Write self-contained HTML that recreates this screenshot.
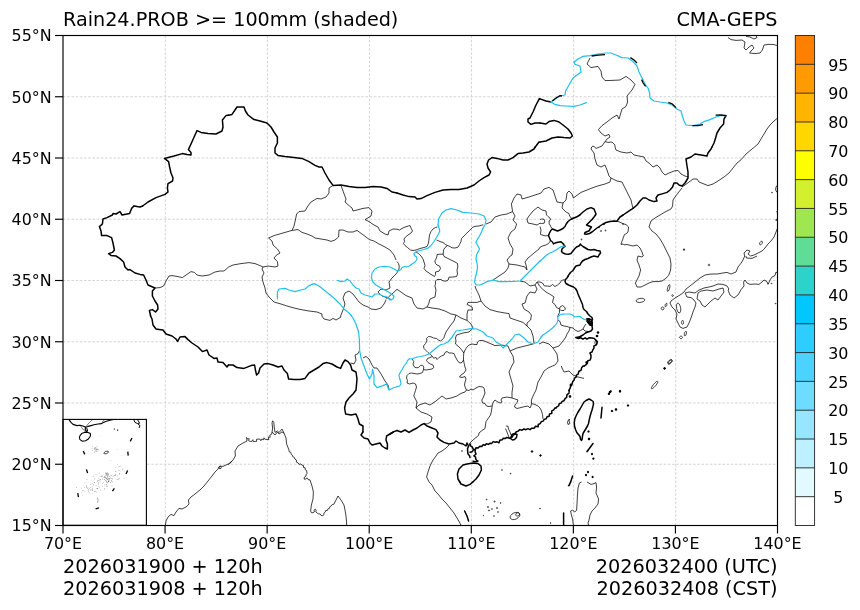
<!DOCTYPE html>
<html lang="en">
<head>
<meta charset="utf-8">
<title>Rain24.PROB &gt;= 100mm - CMA-GEPS</title>
<style>
html,body{margin:0;padding:0;background:#fff;}
body{width:860px;height:610px;overflow:hidden;}
svg{display:block;}
text{font-family:"DejaVu Sans","Liberation Sans",sans-serif;fill:#000;}
.tk{font-size:15.9px;}
.ti{font-size:19.2px;}
.bt{font-size:19.25px;}
.sp{fill:none;stroke:#000;stroke-width:1.15;}
.gr{fill:none;stroke:#d0d0d0;stroke-width:.9;stroke-dasharray:2.6 1.6;}
.cn{fill:none;stroke:#000;stroke-width:1.5;stroke-linejoin:round;stroke-linecap:round;}
.pv{fill:none;stroke:#000;stroke-width:.75;stroke-linejoin:round;}
.co{fill:none;stroke:#000;stroke-width:.75;stroke-linejoin:round;}
.top{fill:none;stroke:#000;stroke-width:1.3;stroke-linecap:butt;}
.rv{fill:none;stroke:#1ec0ea;stroke-width:1.2;stroke-linejoin:round;stroke-linecap:round;}
</style>
</head>
<body>
<svg width="860" height="610" viewBox="0 0 860 610">
<rect x="0" y="0" width="860" height="610" fill="#fff"/>
<g class="gr">
<line x1="165.32" y1="35.5" x2="165.32" y2="525.5"/>
<line x1="267.39" y1="35.5" x2="267.39" y2="525.5"/>
<line x1="369.46" y1="35.5" x2="369.46" y2="525.5"/>
<line x1="471.54" y1="35.5" x2="471.54" y2="525.5"/>
<line x1="573.61" y1="35.5" x2="573.61" y2="525.5"/>
<line x1="675.68" y1="35.5" x2="675.68" y2="525.5"/>
<line x1="63.0" y1="464.25" x2="777.5" y2="464.25"/>
<line x1="63.0" y1="403.00" x2="777.5" y2="403.00"/>
<line x1="63.0" y1="341.75" x2="777.5" y2="341.75"/>
<line x1="63.0" y1="280.50" x2="777.5" y2="280.50"/>
<line x1="63.0" y1="219.25" x2="777.5" y2="219.25"/>
<line x1="63.0" y1="158.00" x2="777.5" y2="158.00"/>
<line x1="63.0" y1="96.75" x2="777.5" y2="96.75"/>
</g>
<clipPath id="ax"><rect x="63.0" y="35.5" width="714.5" height="490.0"/></clipPath>
<g clip-path="url(#ax)">
<g class="co">
<path d="M449,445 446,448 442,451 438,453 436,456 433,460 430,466 428,472 426.6,477 429.1,482"/>
<path d="M777.6,118 774,121 770,125 767,129 764,134 761,139 758,144 754.5,147"/>
<path d="M728,37.6 731,39.6 736,40.4 742,40 745,42 744,48 746,50 749,47 752,45 754,48 751,51 749.6,53 755,53.6 760,53 762.4,50 764,45 768,44.4 773,44.4 777.6,45.6"/>
<path d="M746,36.4 750,37 754,39 757,37.6 756,35.6"/>
<path d="M682,187 685,185 689,182 693,179 697,179 699,182 703,183.6 708,185.6 713,184 718,181 724,177 729,173 733,168 737,163 741,159.8"/>
<path d="M682,188 678,193 675,197 673,200 672.6,206 671,209 665,212 660,215 655,218 651,221 649,227 652,231 656,234 660,239 663,244 666,250 669,256"/>
<path d="M626,224.5 628.6,227 628,232 626,233.8"/>
<path d="M626,244.4 629,245 633,246 637,245 640,248 642,252 643.3,256"/>
<path d="M683.4,249 684.6,249 684.6,250.2 683.4,250.2Z"/>
<path d="M643.3,256 642,257 638,256"/>
<path d="M638,256 637,260 639,265 640.6,270 639,276 637,280 635.4,283 637,287 641,287 645,285 649,283 653,281.6 658,281.6 662,281 665,279 668.6,275.6 670.6,270 671,264 670,258 669,256"/>
<path d="M644.8,299.8 644.5,300.7 643.3,301.6 641.6,302.2 639.7,302.5 637.9,302.3 636.6,301.8 636,301 636.4,300.1 637.5,299.2 639.2,298.6 641.1,298.3 642.9,298.5 644.2,299Z"/>
<path d="M741,263.2 738,267 736,272 731,274 727,272.4 723,273 717,274 711,274 705,275 700,278 695,282 690,286 686,289 684,292 680,295 675,298 671,301 670,303 672,307 675,310 677,314 676,319 678,323 680,327 683,328.4 687,327 689,323 691,318 693,312 695,307 696,303 694,300 691,297.6 687,297 685,293 689,292 695,293 699,290 704,288 709,287 713,286 718,284 723,284.4 727,286 729,289 728,290 730,295 734,298 738,295 741,289.7"/>
<path d="M698,293 701,291 707,290 713,291 719,289 723,288 724,292 721,296 718,300 715,298 711,301 708,304 705,307 702,305 700,301 697,299Z"/>
<path d="M669.6,288.3 669.1,289.7 668.5,290.9 667.9,291.4 667.5,291.3 667.3,290.6 667.3,289.3 667.6,287.7 668.1,286.3 668.7,285.1 669.3,284.6 669.7,284.7 669.9,285.4 669.9,286.7Z"/>
<path d="M664,308.4 663.9,309 663.5,309.5 662.9,309.8 662.3,309.8 661.7,309.5 661.3,309 661.2,308.4 661.3,307.8 661.7,307.3 662.3,307 662.9,307 663.5,307.3 663.9,307.8Z"/>
<path d="M666.8,305.3 666.4,306 666,306.5 665.6,306.7 665.2,306.6 665,306.1 665.1,305.5 665.2,304.7 665.6,304 666,303.5 666.4,303.3 666.8,303.4 667,303.9 666.9,304.5Z"/>
<path d="M686.4,333.9 686,334.8 685.5,335.6 685,335.9 684.6,335.8 684.3,335.2 684.3,334.4 684.4,333.3 684.8,332.4 685.3,331.6 685.8,331.3 686.2,331.4 686.5,331.9 686.5,332.8Z"/>
<path d="M682.6,337.4 682.4,337.9 682,338.3 681.4,338.6 680.6,338.6 680,338.3 679.6,337.9 679.4,337.4 679.6,336.9 680,336.5 680.6,336.2 681.4,336.2 682,336.5 682.4,336.9Z"/>
<path d="M672.1,360.4 672.2,361 671.8,361.8 671.1,362.5 670.2,363.1 669.2,363.3 668.4,363.2 667.9,362.8 667.8,362.2 668.2,361.4 668.9,360.7 669.8,360.1 670.8,359.9 671.6,360Z"/>
<path d="M665.4,368.4 665.3,368.8 665.1,369 664.8,369.2 664.4,369.2 664.1,369 663.9,368.8 663.8,368.4 663.9,368.1 664.1,367.8 664.4,367.6 664.8,367.6 665.1,367.8 665.3,368.1Z"/>
<path d="M709.8,265 709.7,265.4 709.5,265.6 709.2,265.8 708.8,265.8 708.5,265.6 708.3,265.4 708.2,265 708.3,264.6 708.5,264.4 708.8,264.2 709.2,264.2 709.5,264.4 709.7,264.6Z"/>
<path d="M673.4,295.6 673.3,295.9 673.1,296.2 672.8,296.4 672.4,296.4 672.1,296.2 671.9,295.9 671.8,295.6 671.9,295.2 672.1,295 672.4,294.8 672.8,294.8 673.1,295 673.3,295.2Z"/>
<path d="M680.6,307.6 680.8,309.8 680.5,311.6 679.9,312.7 679,312.9 678,312.1 677.2,310.4 676.6,308.4 676.5,306.2 676.7,304.4 677.3,303.3 678.2,303.1 679.1,303.9 680,305.6Z"/>
<path d="M683.6,322.4 683.5,323.3 683.2,324 682.8,324.4 682.4,324.4 682,324 681.7,323.3 681.6,322.4 681.7,321.5 682,320.8 682.4,320.4 682.8,320.4 683.2,320.8 683.5,321.5Z"/>
<path d="M597,342.6 596.7,343.6 596.3,344.4 595.8,344.7 595.4,344.7 595.1,344.1 594.9,343.3 595,342.2 595.3,341.2 595.7,340.4 596.2,340.1 596.6,340.1 596.9,340.7 597.1,341.5Z"/>
<path d="M655.5,385.8 654.1,387.3 652.8,388.4 651.8,388.8 651.4,388.4 651.6,387.4 652.4,385.9 653.7,384.2 655.1,382.7 656.4,381.6 657.4,381.2 657.8,381.6 657.6,382.6 656.8,384.1Z"/>
<path d="M670.9,362.8 670,363.6 669.2,364.2 668.5,364.3 668,363.9 668,363.2 668.4,362.2 669.1,361.2 670,360.4 670.8,359.8 671.5,359.7 672,360.1 672,360.8 671.6,361.8Z"/>
<path d="M429.1,482 432,485 435,491 438,494 442,499 446,503 450,508 454,513 457,518 459.4,522 461,525.4"/>
<path d="M487,499.6 486.9,499.9 486.6,500 486.3,499.9 486.2,499.6 486.3,499.3 486.6,499.2 486.9,499.3Z"/>
<path d="M495.2,501.6 495,502 494.6,502.2 494.2,502 494,501.6 494.2,501.2 494.6,501 495,501.2Z"/>
<path d="M501,503 500.9,503.3 500.6,503.4 500.3,503.3 500.2,503 500.3,502.7 500.6,502.6 500.9,502.7Z"/>
<path d="M488.6,507 488.4,507.4 488,507.6 487.6,507.4 487.4,507 487.6,506.6 488,506.4 488.4,506.6Z"/>
<path d="M489.6,510.4 489.4,510.8 489,511 488.6,510.8 488.4,510.4 488.6,510 489,509.8 489.4,510Z"/>
<path d="M492.4,509 492.3,509.3 492,509.4 491.7,509.3 491.6,509 491.7,508.7 492,508.6 492.3,508.7Z"/>
<path d="M497.6,508 497.4,508.4 497,508.6 496.6,508.4 496.4,508 496.6,507.6 497,507.4 497.4,507.6Z"/>
<path d="M498.4,512 498.3,512.3 498,512.4 497.7,512.3 497.6,512 497.7,511.7 498,511.6 498.3,511.7Z"/>
<path d="M494.4,516 494.3,516.3 494,516.4 493.7,516.3 493.6,516 493.7,515.7 494,515.6 494.3,515.7Z"/>
<path d="M483.7,515.6 483.6,515.8 483.4,515.9 483.2,515.8 483.1,515.6 483.2,515.4 483.4,515.3 483.6,515.4Z"/>
<path d="M540.4,508.6 540.3,508.9 540,509 539.7,508.9 539.6,508.6 539.7,508.3 540,508.2 540.3,508.3Z"/>
<path d="M551,523 550.9,523.3 550.6,523.4 550.3,523.3 550.2,523 550.3,522.7 550.6,522.6 550.9,522.7Z"/>
<path d="M502.4,470 502.3,470.3 502,470.4 501.7,470.3 501.6,470 501.7,469.7 502,469.6 502.3,469.7Z"/>
<path d="M511,473.6 510.9,473.9 510.6,474 510.3,473.9 510.2,473.6 510.3,473.3 510.6,473.2 510.9,473.3Z"/>
<path d="M569,485.6 568.9,485.9 568.6,486 568.3,485.9 568.2,485.6 568.3,485.3 568.6,485.2 568.9,485.3Z"/>
<path d="M462.4,451 462.3,451.3 462,451.4 461.7,451.3 461.6,451 461.7,450.7 462,450.6 462.3,450.7Z"/>
<path d="M519.7,513.8 519.9,515.1 519.3,516.5 518,517.8 516.4,518.9 514.5,519.5 512.6,519.6 511.2,519.1 510.3,518.2 510.1,516.9 510.7,515.5 511.9,514.2 513.6,513.1 515.5,512.5 517.4,512.4 518.8,512.9Z"/>
<path d="M519.4,513.5 519.5,514.6 518.8,515.5 517.7,516 516.5,515.9 515.8,515.2 515.7,514.2 516.4,513.3 517.5,512.8 518.7,512.9Z"/>
<path d="M573.4,525.4 572.6,519 571.4,515 570.6,511 572.6,510 574.6,512 576.6,510.4 577,504 577.4,496 578,488 579.4,483 581.6,482"/>
<path d="M587,482 591,484.4 594,483.6 596,482.6 596.6,487 596,493 598.6,499 598,504 595,508 592,511 590,515 589,520 588,523 588.6,525.4"/>
<path d="M741,159.8 746,154 752,149 754.5,147"/>
<path d="M777.6,185 776,187 775.6,190 777,192.4"/>
<path d="M772.4,192.6 772.2,192.9 771.8,192.9 771.6,192.6 771.8,192.2 772.2,192.2Z"/>
<path d="M777.6,228 776,232 774,237 771,241 768,244 765,248 762,251 758,253 754,255 750.7,256"/>
<path d="M750.7,256 748,254 750,251 747,250 744,253 744.7,256"/>
<path d="M762,243.6 761.2,244.5 760.4,244.8 759.7,244.5 759.6,243.5 760,242.4 760.8,241.5 761.6,241.2 762.3,241.5 762.4,242.5Z"/>
<path d="M777.6,210.4 776.8,211.6 777.4,212.8"/>
<path d="M777.6,218.4 775.6,220 777.6,220.8"/>
<path d="M745.9,256 746.4,258 752,258.4 757.1,256"/>
<path d="M744.7,256 743,260 741,263.2"/>
<path d="M741,289.7 744,286 743.6,282 745,280 747,283 750,284.4 755,284 759,284.4 762,282 764,280 767,281.6 768,284.4 770,280 772,277 775,275.6 776,272 777.6,273"/>
<path d="M772,283.6 771.8,283.9 771.4,283.9 771.2,283.6 771.4,283.2 771.8,283.2Z"/>
<path d="M776,303.6 775.8,303.9 775.4,303.9 775.2,303.6 775.4,303.2 775.8,303.2Z"/>
<path d="M228.5,464.6 229,464.4 233,460 235.4,456 235,451 238,446 243,443 247,441 246.6,437.6"/>
<path d="M246.6,437.6 247.5,438.9 249.2,438.7 248.6,440.7 250.2,441.5 251.8,441.4 252.8,439.7 253.3,441.7 255.2,441.4 256.6,441.4 256.5,439.3 258.1,439.1 259.8,439 260.9,440.7 261.6,439.1 263.7,439.7 263.9,437.8 265.2,439.4 267.1,439.4 268.9,439.7 268.3,437 270.2,437.3 269.8,435.1 271.8,434.1 271.8,432.3"/>
<path d="M272,432 275,435 277.4,432"/>
<path d="M277.4,432 279,434 281.9,432"/>
<path d="M281.9,432 284,433 286,438 286.6,444 289,450"/>
<path d="M289,450 289.1,451.6 290.8,452.3 291,453.9 292.2,454.9 292.7,456.6 294.3,457.4 294.9,459.1 296.4,460 296.4,462.1 298.1,462.9 299,464.4 300.9,463.9 301.9,465.2 303.5,465.5 303.5,467.5 305.2,467.8 305.1,469.6 306.6,470.5 306.8,472.1 307.2,473.5 305.9,474.6 306.1,476 304.4,477.1 304.1,479.1 305.7,479.2 306.9,477.8 308.1,479.6 310.1,479.9"/>
<path d="M310,480 312,486 313.4,492 313,499 311.4,505 310.6,511"/>
<path d="M310.6,511 311.3,512.6 313.1,512.8 314.3,512 314,510.2 315.2,509.1 316.1,510.1 315.8,511.9 317.1,513 318.4,513.9 320.1,513.9 321,515.3 322.7,515.9 323.7,514.8 323.9,513.1 325.2,512.1 325.6,510.6 327.4,510.4 327.9,508.9 329.4,508.4 329.8,506.8 331.1,506.1 332.2,504.5 334.1,504.2"/>
<path d="M334,504 336,500 338,496 341,500 344,505 345,510 346,516 346.6,522 346.6,525.2"/>
<path d="M165.4,525.4 166,521 168,517 171,514.4 174,515.6 176,512 179,508.4 182,509 186,507 189,504 188.4,500 191,497 195,494 200,490 204,486 208,481 212,476 215,472 218,469 220,466 223,466.4 226,465 229,463.6 232,461"/>
<path d="M221.4,467.6 221,468.4 220,468.8 219,468.4 218.6,467.6 219,466.8 220,466.4 221,466.8Z"/>
<path d="M626,233.8 624.5,234.5 623.5,237 622.5,240 621.5,242.5 621,244.5 623,244 625,245 626,244.4"/>
<path d="M582,239.5 581.9,239.8 581.5,240 581.1,239.8 581,239.5 581.1,239.2 581.5,239 581.9,239.2Z"/>
<path d="M604.5,224.5 604.4,224.8 604,225 603.6,224.8 603.5,224.5 603.6,224.2 604,224 604.4,224.2Z"/>
<path d="M601.5,231 601.4,231.3 601,231.5 600.6,231.3 600.5,231 600.6,230.7 601,230.5 601.4,230.7Z"/>
<path d="M606,230.5 605.9,230.8 605.5,231 605.1,230.8 605,230.5 605.1,230.2 605.5,230 605.9,230.2Z"/>
<path d="M599.5,227.5 599.4,227.8 599,228 598.6,227.8 598.5,227.5 598.6,227.2 599,227 599.4,227.2Z"/>
<path d="M623.5,224 623.4,224.3 623,224.5 622.6,224.3 622.5,224 622.6,223.7 623,223.5 623.4,223.7Z"/>
<path d="M617,221.2 620,222.2 623,223.8 626,224.5"/>
<path d="M567.5,422 568.5,420 569.5,419 569,421 570,423.5 568,424.5 567.5,422"/>
<path d="M272,432.4 272.6,428 272,423 272.6,420.8 273.8,422.4 274.2,427 275,432.4"/>
<path d="M275,432.4 277.4,431 279,432.6 282,429 284,433"/>
<path fill="#000" d="M532.9,451.5 532.6,452.1 532,452.4 531.4,452.1 531.1,451.5 531.4,450.9 532,450.6 532.6,450.9Z"/>
<path fill="#000" d="M541.4,455.5 541.1,456.1 540.5,456.4 539.9,456.1 539.6,455.5 539.9,454.9 540.5,454.6 541.1,454.9Z"/>
</g>
<g class="pv">
<path d="M155,288 160,287.6 163.6,286 166,281 169,276 172,275.6 177,276.4 182.4,277.6 187,274.4 191,271.6 194.4,272.4 197,275 202,276 209,275 215,272 220,271 224,271 228.5,267.1"/>
<path d="M321.9,316 324,319 330,320.4 333,318.4 336,320 341,317 340.5,316"/>
<path d="M350.6,363 354,364 356,360 355,355 358,353.6 359.4,351"/>
<path d="M363,358 366,356.4 369,359 372,365 374,368 377,368 381,374 385,381 388,385 389,389"/>
<path d="M333,185.4 329,188 329,193 326,197 321,199 317,198.4 311,202 307.9,206"/>
<path d="M341,185.4 343,191 346,199 345,202 349.5,206"/>
<path d="M228.5,267.1 233,265 241,263.6 249,262.6 255,263.6 260,265.6 263,267"/>
<path d="M263,267 268,266 275,267 278,266 277.4,261.6 274,258 276.6,255 280,253 277.4,249 273,245 272,241 268.6,238 274,235.6 283,233 292,230.4 294,226 295.4,220 296.6,214 299,211.6 305,211 307.9,206"/>
<path d="M292,230.4 298,229.6 302,232.4 307,234 312,236 315,238 321,239 327,240 331,241.4 335,240 338.6,237 339,230 343,230 348,232 353,232 357,230.4 362,234 366,237 369.4,239.6 374,241 379,244 385,247 390,250 394,255 396,260"/>
<path d="M263,267 262,269 264,273 262,277 263,282 265,288 266,293 269,297 274,302 281,304 287,306 294,308 301,309.6 309,311 317,312 322,314 321.9,316"/>
<path d="M340.5,316 341,315 343,310 345,304 343,298 345,293 349,291 353,294 356,298 359,302 363,305 368,307 371,309 376,309.6 381,308 384,304 386,300"/>
<path d="M349.5,206 352,208 353,211 357,210 363,208.4 369,207.6 372,211 371,216 365,219.6 369,221.6 374,225 378,227 380,231 385,234 388,235 389,231 393,229 397,229.2"/>
<path d="M486,224 491,222 495,217 501,215 507,214 512.6,211.6 511.4,204 514,198 517,194 521,195 522,199 529,197 535,195 541,193 544,189 549,187.4 553,190 555,196 557,202 563,203 566,200 567,193 569,191"/>
<path d="M512.6,211.6 515,216 513,220 516.6,224 515,229 511,232 508,238 510,244 513,249 512,255 510.2,256"/>
<path d="M529,216 533,211 538,207 542,210 546,211 546.5,215"/>
<path d="M540,223.2 537,225 533,224 528,223 527,219 529,216"/>
<path d="M563,203 562,208 566,212 569,213.5"/>
<path d="M482,225 483.4,225"/>
<path d="M530.5,256 534,253 539,249 540,247.2"/>
<path d="M434.9,286 436,290 435,297 430,299 428.6,304 427,307"/>
<path d="M397,289.3 401,292 406,295.6 412,298 414,304 417,308 423,309 427,307 432,308 439,309 445,311 451,314 456,315 461,318 467,320.4"/>
<path d="M475,286 476,289 479,295 481,301 477,302.4 468,302.4 467,304.4 472,307 472.6,310 468,310 467,314 467,320.4 471,324 473,328 469,332 463,333 456.5,335"/>
<path d="M456,315 454,321 450,326 446,332 444.8,335"/>
<path d="M481,301 485,306 490,309.6 497,311.6 505,313 509,313.6 510,318 517,320.4 523,322.4 527,326 531,330 533,336 534,343"/>
<path d="M510.2,256 507,260 509,264 517,265 525,267 527,270 526,265 525,262 528,258 530.5,256"/>
<path d="M493,280 499,276 505,272 508,268 509,264"/>
<path d="M520,281 525,282 530,286 535,285 537,289 535,293 530,292 527,296 525,303 522,304 524,309 529,312 531.4,315 530.6,320 527,323 527,326"/>
<path d="M537,282 540,286.6"/>
<path d="M535,285 537,282 540,282"/>
<path d="M483,340.5 489,343 495,345.6 501,345 508,346 510,351 517,348 525,346 533,344"/>
<path d="M539,344 543,342 549,344 553,348 559,346 563,341 565.9,337"/>
<path d="M510,351 513,356 514,362 511.8,366"/>
<path d="M553,348 557,354 558,361 555,365 552.5,366"/>
<path d="M416,408 419,405 425,403 430,405 436,401 442,396"/>
<path d="M442,396 446,399 451,398 457,396"/>
<path d="M483,387 484,388 485,393 483,398 481.8,400"/>
<path d="M416,408 421,412 427,414 432,417 431,422 427,424 424,423.6"/>
<path d="M416,408 417,402 413.8,396"/>
<path d="M470,443 469,446"/>
<path d="M501,400 502,398 507,397 512,398"/>
<path d="M511.8,366 509,372 511,379 513,386 512,392 512,398 518,400"/>
<path d="M531.4,400 533,396 536,390 538,382 541,377 544,371 548,368 552.5,366"/>
<path d="M561.3,366 562,368 564,372 569,371"/>
<path d="M590,58 587,64 591,67.6 598,66.4 601,71 602,77 605,80.6 612,80.4 620,80 626,76.4 631,80 635,84.4 632,90 627,96 627.6,102 626,106.4 622,109 619,119 617,115 612,118 607,122 602,125.6 598.4,129.6 601,133 605,136 609,134.4 610,137 607,139 605,141.6 608,142.4 612,142 615,145 615,147"/>
<path d="M605,141.6 602,146 599.5,147"/>
<path d="M594.6,147 593,146 591.7,147"/>
<path d="M615,147 616,150 621,152 627,153 631,152 634,155 639,156 644,157 646,161 649,163 653,167 657,165 660,168 662,172 665,175 669,173 674,171 678,170.4 681,174 685,176 688,177"/>
<path d="M599.5,147 596,148.4 594.6,147"/>
<path d="M591.7,147 591,149 594,153 595,159 597,165 601,167 605,165 607,170 609,176 611,178"/>
<path d="M611,178 617,181 622,182 625,188 628,194 631,200 632.6,207 633,208.4"/>
<path d="M611,178 610,182 605,184 599,185.6 593,187.6 587,190 581,192.4 576,196 573.4,198 572,194 569,191"/>
<path d="M569,213.5 569.3,215"/>
<path d="M569,371 573,375 578,377 584,378.4"/>
<path d="M546.5,215 548,216.5 550,218 550.5,220 549,221 549.2,223.5 550.5,226 551.8,228.5 552.5,229.2"/>
<path d="M540,219.5 541.5,219 544,219.2 544.8,221 544.2,223.2 541.5,223.5 540,223.2"/>
<path d="M540,226.5 541,230 540.5,233.5 540,234"/>
<path d="M540,234 542,235 545,235.8 548.5,235.7"/>
<path d="M540,247.2 543,245.8 546,245 548.5,243.5 550.5,240.8"/>
<path d="M569.3,215 570,216.8 571.8,218.2 574,218"/>
<path d="M540,282 542.5,283 544.5,286 547.5,286 550,286.5 552.5,284.5 555,286.5 557.5,285 560,283 561.5,280.5 564.5,279.5"/>
<path d="M540,286.6 543,289.5 546,292 549.5,294 552,295.5 554,297 553,300 552.5,302.5 555,304.5 556.5,307.5 559.5,309 560,307 562.5,305.5 564.5,307 565.5,309 564,310.5 561.5,310.5 559.5,309.5 559.5,312.5 558,315.5 557.5,317"/>
<path d="M557.8,320 560,321.5 561,325 564,326 567,326.5 570,327.5 573,328 575,330 578,331.5 580.5,330.5 583,329 584.5,326 586,324"/>
<path d="M570,327.5 569,331 567,334 565.9,337"/>
<path d="M583,329 585,331 588,331.5"/>
<path d="M386,299.4 389,296.4 392,294 397,289.3"/>
<path d="M506,426 508,426.2 508.5,429 510,432 511,435"/>
<path d="M505.5,428.5 507,432 508.5,436 509.5,438.5"/>
<path d="M470,443 473,440 476,437.5 478.5,435.5 479,433 482,430.5 485,428.5 485.5,425 486,421.5 488.5,418 490.5,415 491.5,411 492,407 492.5,404 494,401 495,400"/>
<path d="M481.8,400 482.5,403 485,403.5 486.5,406 489,406.5 492,406"/>
<path d="M495,400 497,401.5 500,403 502,402 501,400"/>
<path d="M518,400 517,402.5 515,405 514.5,407 517,408.5 521,407.5 525,406.5 528,406 530,408 531,406 531.5,403.5 531.4,400"/>
<path d="M531.5,403.5 535,404.5 538,406 540,408 541.5,411 542.5,414.5 543,419"/>
<path d="M397,229.2 399.5,230 402,228.5 405,227 408.5,226 410,225.5 411,228 412.5,231 411,233 408,235 405.5,237 404,239 404.5,241.5 403.5,243.5 405,245.5 407.5,247.5 410.5,250 413,250.5 416,250 420,248.5 424,247.5 427,246.5 428.5,243 429,239 429.5,235 431,231.5 433,229 435.5,227.5 437.5,227"/>
<path d="M416,252 418.5,253.5 421,256 423,259 424,262 425,265.5 424,268.5 426,271 429,273 432,275 434.5,276.5 435.5,274.5 435.5,272 439,271.2 440.5,268.5 439.5,266 437,265 435.5,263.5 434.8,261 436,259 437,256 437,254.5 440,254.2 443.2,254.2"/>
<path d="M436.5,240 440,241.5 443,242.5 445.5,244.5 447.5,245.5 450,246.5 452,247.8 455,248 458,247.2 459.5,244.5 461,241.5 461.5,238.5 464,236 467,233 470,230 473,227 476,226.2 479,226 482,225"/>
<path d="M447.5,245.5 445,247.5 443.5,250 443.2,254.2 444,256.5 447,258 451,260 455,262 457.5,263.5 457.8,267 457,270 457.5,274 456.5,276.5 453,277 449,277.2 448.2,280 446,281.2 443,280.8 441,279.5 437,279.5 435.5,281 435.5,284 434.9,286"/>
<path d="M397,261.5 398.5,263.5 399.2,266 399,269 398,271 397,272.8"/>
<path d="M444.8,335 444,337.5 442.5,339.5 440.5,341 438.5,340 436.5,338.5 433.5,338 431,336.8 428.5,336.5 426.5,338.5 427,341 425.5,343.5 423.5,346 424,348.5 426,350.5 428,352.5 430.5,354.5 432.5,356.5 434,358.5 435.5,357 437,359.5 439,357.5 441.5,356 444,355 445,352.5 447,351.5 449,353 451.5,353 454,353.5 455,356 456.5,359 458,361.5 460,363 462,362.5 463.5,360"/>
<path d="M432.5,356.5 430,357.5 427.5,358.5 426.5,360.5 428,362.5 430.5,364 433,365 433.8,367.5 432,369 429,369.5 426,370 423.5,369.5 423.8,367 422.5,365.2 420.5,365.5 418.5,367.5 416,367.8 414,366.5 413,364 413.8,361.5 412,359"/>
<path d="M423.5,369.5 422.5,372.5 420,373.5 417,374 414,373.5 411.5,373 409,373.5 407,375.5 406.5,378 407.5,380.5 407,383 409.5,384 413,383 415.5,384 416.5,387 415.5,390.5 414.5,393.5 413.8,396"/>
<path d="M456.5,335 455.5,338 456,341 455.5,344 458,346 460.5,348.5 462.5,351 463.8,353 465,350 467,347 469,345 472,344 475,344.5 477,344.5 477.5,342 479.5,340.5 483,340.5"/>
<path d="M463.8,353 463.5,356.5 463.5,360 464.2,363.5 465,367 466,370 464,373 461,375 459.5,377 462,377.5 465,376.5 466,379 465,382 464.5,385 465.5,388 466.5,390 469,390.5 471,389 473,390 476,388 479,386.5 483,387"/>
<path d="M466.5,390 465,392 462,393 459,394.5 457,396"/>
<path d="M397,272.8 396,274 392,278 389,282 390,288 386,290 381,289 378,292 382,296 388,298 392,300"/>
</g>
<g class="cn">
<path d="M228.5,115.2 226,115.6 222.4,120 223,127 222,131 216,134 208,133.6 201,132.4 197,130.6 195,135 191,144 188.4,149.6 191,152.4 191,155 187,154.6 182.4,153.6 174,156 164.4,158.4 168.6,161.6 169.6,167 171,173 173,178 172.6,181 168,183.6 167.4,188 168,192 165,194.4 156,197.6 148,202 142.6,206"/>
<path d="M142.6,206 140,207 134,206"/>
<path d="M134,206 131.6,208.4 129.6,213.6 122,215 120,211.6 116,214 113,213.6 112.4,215 107,217.6 103,219 102.4,224 99.4,226.6 101,231 101.6,235.6 107,235.6 111.6,237.6 113,243 114.4,250 112.4,252.4 108.6,253.6 111,255.4 116,256 120,258.6 123.6,262 125,267 128,270 130,269.6 135,273 140,274.4 143.6,275 146,280 148,285 155,288 152.4,291 152.4,296 155,301 157.6,305 158,309 155.6,312 152.4,309.6 149.4,310.4 150.4,315 150.6,316"/>
<path d="M150.6,316 152,319 153,325 156,329 159,329.4 163,330 166,334 172,336 176,339 177.6,341.4 180,337 185,336.6 188,339.6 192,343 198,347 202.4,351.6 207,350 209,355 214,358.4 217,358 218,362 223,362.4 227,367 228.5,365"/>
<path d="M228.5,365 233,365 237,367.6 244,368.4 251,365.6 254.6,365 255.4,370 256.6,375 258.6,373 260,368 264,364 268,363.6 273,365 278,367 282,366 284,370 287.4,373.6 288.6,379 294,379.6 300,379.4 305,378.4 309,373 314,370 319,367 323,363.6 327,362.6 332,364 337,367 340.6,368.4 343,363 345,360 348,361.6 350.6,365 352,370 356,372 357,379 356,390 353,394 349,398 346,402 344.6,408 345.6,414 351,415 356,414 358,419 359.4,424 363,426 362.9,432"/>
<path d="M228.5,115.2 232,114.4 235,110 237,107 244,107 245.4,111 248,115 254,119.6 260,121 267,123 271,127 274,132 277.4,137 277.4,143 275,148 275,153 278,155.4 285,156.6 294,157.4 302,158.4 309,161.6 315,165.4 319,167 322,167 325,173 329,180 333,185.4 341,185 349,186.4 357,187.4 365,187.6 373,186.4 381,187 387,188.4 392,192 397,193"/>
<path d="M397,193 403,195 409,196.6 415,197 417,199 421,198.6 427,195.6 435,192.4 443,190 451,189.4 459,189.4 467,188 474,185 479,181 484,177.6 489,175 490.6,172 488,168 487,164 488.6,160 492,157.6 497,158.4 503,160 508,160 513,157.6 518,153.6 523,153 529,152 534,149 535.2,147"/>
<path d="M397,430.5 401,432 405,430 409,432.4 413,430 417,428 421,425 424,423.6 427,426 432,428 436,429.6 438,433 437,437 440,440 444,442.4 449,444 454,443 456,441 459,443 463,444 466,446 467,443 468.6,446"/>
<path d="M468.6,446 467.6,448.4 467.6,451 467.9,453.7 469.6,455.9 470,457.6"/>
<path d="M473.1,461 473.3,461.3 475.1,461.8 478,461.1 478,461"/>
<path d="M556,407.9 556.9,406.8 558.6,405.9 559.2,403.8 561.1,403.1 562.1,401.4 564,400.7 564.9,398.9 566.7,397.3 566.9,394.9 569,393.2"/>
<path d="M459.8,482 458,479 457.4,474 459,469 463,465 467,464 473,463 478,463.6 481,466 481.4,470 479,475 476,479 472.8,482"/>
<path d="M540,98.9 546,101 551,102"/>
<path d="M540,123.1 546,124 549,121.6 554,120.4 559,122 563,125 568,129 571,133 572.4,136 570,138 564,137.6 558,137 552,138 546,141 540,141.9"/>
<path d="M726,115.6 724,119 723.6,124 720,128 717,133 715.6,138 714,143 712,147"/>
<path d="M712,147 711,149 708,153 707,156 701,155 695,154 691,157 686,159 687,166 688,172 688,178 685,183 682,186 679,185 677,183 674,183 672.6,187 670,190 667,192.4 663,193.6 658,195 656,198 657,201 654,201.6 649,200 646,198 643,198 640,201 637,205 633,208.4 628,211.6 623.1,215"/>
<path d="M595.5,215 596,214 594,209 591,207.6 587,209 583,212 579.8,215"/>
<path d="M535.2,147 536,146 539,142 540,141.9"/>
<path d="M540,123.1 535,123 531,124.4 528,122 528,119 530,118 533,112 536,105 539.4,98.6 540,98.9"/>
<path d="M579.3,337 576,337.6"/>
<path d="M576,337.6 578.4,338.5 581,337.8 582.9,339.1 585.1,337.8 587,339.2 589.3,337.7 592,338.1 594.3,338.4 595.9,340.2 597.2,341.8 596.8,344.1 595.7,345.4 593.9,345.9 594,348.1 592.8,349.9 592,352 589.9,352.9 591,355.4 590.9,358 590.1,360.1 587.8,360.8 587.4,363.2 585.8,364.9 584.2,366"/>
<path d="M584.2,366 583.1,366.1 581.6,367.8 581.1,370.1 578.8,371.5 578.2,374.1 576.4,375.1 576.1,377.1 574.5,378.1 574.1,380.1 572.6,381.8 572.1,384.1 570.6,385.8 570.2,388.1 569,390.3"/>
<path d="M569,390.3 569.2,392.1"/>
<path d="M587.5,451 587,451.6"/>
<path d="M572.6,476 570.6,482"/>
<path d="M610.5,392 610.3,392.3 610,392.5 609.7,392.3 609.5,392 609.7,391.7 610,391.5 610.3,391.7Z"/>
<path d="M620.4,391 620.2,391.2 620,391.4 619.8,391.2 619.6,391 619.8,390.8 620,390.6 620.2,390.8Z"/>
<path d="M592.4,454 592.2,454.2 592,454.4 591.8,454.2 591.6,454 591.8,453.8 592,453.6 592.2,453.8Z"/>
<path d="M593.8,458.6 593.6,458.9 593.4,459 593.1,458.9 593,458.6 593.1,458.4 593.4,458.2 593.6,458.4Z"/>
<path d="M588.4,472 588.2,472.2 588,472.4 587.8,472.2 587.6,472 587.8,471.8 588,471.6 588.2,471.8Z"/>
<path d="M586.4,475 586.2,475.2 586,475.4 585.8,475.2 585.6,475 585.8,474.8 586,474.6 586.2,474.8Z"/>
<path d="M593,477 592.9,477.2 592.6,477.4 592.4,477.2 592.2,477 592.4,476.8 592.6,476.6 592.9,476.8Z"/>
<path d="M665.1,368.4 664.9,368.7 664.6,368.9 664.3,368.7 664.1,368.4 664.3,368.1 664.6,367.9 664.9,368.1Z"/>
<path d="M571.7,385 571.5,385.5 571,385.7 570.5,385.5 570.3,385 570.5,384.5 571,384.3 571.5,384.5Z"/>
<path d="M570.6,396.4 570.4,396.8 570,397 569.6,396.8 569.4,396.4 569.6,396 570,395.8 570.4,396Z"/>
<path d="M587.2,362.4 587,362.8 586.6,363 586.2,362.8 586,362.4 586.2,362 586.6,361.8 587,362Z"/>
<path d="M459.8,482 461,484 466,486 470,484.4 472.8,482"/>
<path d="M464.6,511 467,516 468.6,521"/>
<path d="M563.6,513 563.6,525.4"/>
<path d="M570.6,482 569,485.6"/>
<path d="M390,434 394,431.6 397,430.5"/>
<path d="M362.9,432 361,435 364,438 368,439 370,443 372,445 376,444 380,443 382,446 385,448 387.4,449 387.4,444 386,440 386.6,436 390,434 393.3,432"/>
<path d="M579.8,215 577.5,216.5 574,218 570.5,219.5 568,221.5 566.2,224 565,226.5 563,228.5 560,230 557.5,231 555,230 552.5,229 550.8,230.5 549.5,233 548.5,235.5 549.5,238 550.5,240.5 552.5,242 553.5,244 555,243 558,242.2 561,241.8 562.5,243 564,245 565,246.5 563.5,247.5 562,249 561.5,251.5 563,253 565.5,254 568.5,254.2 571,253.5 572.5,251.5 574.5,249 576.5,247 579,246 580.5,244 581,245 583,246.5 585.5,248 588,249.5 591,250 594,249.5 597,250.5 600,251 600.5,253 599,255 598,257 596,256.5 594,256 591,257 588,258.5 585,259.5 582.5,261 581,263 580,265 578,265.5 576,266 574.5,268 573,270.5 570.5,272.5 569,274.5 568.2,276"/>
<path d="M595.5,215 594,217 592,219.5 589.5,222 587.5,224 586.5,225 589,226 591.5,227 590,229 589.5,230.5 587.5,231.5 585,232.5 584.5,234 586.5,234.2 589.5,233.5 592,232 594.5,230 597,228 600,226 603,224 606,222.5 610,221.5 614,221 617,221.2 618.5,219 620,217 623.1,215"/>
<path d="M568.2,276 567,278 565.5,279.5 565,281.5 566,283.5 568.5,285 571,286 573.5,287 575.5,288.5 577,291 578,294 579.5,297.5 581,301 582.5,304.5 583,307.5 584,309.5 586.5,311.5 588,314 590,316 592,317.5 592.5,319.5 591.5,321.5 592,324 592,326 592.5,329 591,331 588,332 585.5,333 583,335 579.3,337"/>
<path d="M586.5,319 589,318.8 591.5,320 592.2,322.5 592,325.5 590,325 588.5,323 587,321Z"/>
<path d="M587,320 591,324"/>
<path d="M588,319.2 591.8,323"/>
<path d="M587.5,321.5 590.5,325.2"/>
<path d="M598.6,332.5 598.4,332.9 598,333.1 597.6,332.9 597.4,332.5 597.6,332.1 598,331.9 598.4,332.1Z"/>
<path d="M597.6,336 597.4,336.4 597,336.6 596.6,336.4 596.4,336 596.6,335.6 597,335.4 597.4,335.6Z"/>
<path d="M589,399 591,400 593.2,401.5 593.5,404 592.8,407 592,410 591,413 590,416.5 589.2,420 588.5,423.5 587.5,426 586,428.5 584.5,431 583,433.5 582.5,436 582.2,439 581.5,440.5 580.5,439 580,436.5 578.5,434.5 576.8,432.5 575.5,429.5 574.5,426 574.3,422.5 574.8,419 576,416 577.8,412.5 580,409 582,405.5 584,402 586,400.5Z"/>
<path d="M602,407.2 601,418"/>
<path d="M593,443.5 587.5,451"/>
<path d="M609.5,393.8 609.4,394.1 609,394.3 608.6,394.1 608.5,393.8 608.6,393.4 609,393.3 609.4,393.4Z"/>
<path d="M611.1,391.2 611,391.4 610.8,391.6 610.5,391.4 610.5,391.2 610.5,390.9 610.8,390.9 611,390.9Z"/>
<path d="M620.4,391.5 620.3,391.8 620,391.9 619.7,391.8 619.6,391.5 619.7,391.2 620,391.1 620.3,391.2Z"/>
<path d="M628.4,405.5 628.3,405.8 628,405.9 627.7,405.8 627.6,405.5 627.7,405.2 628,405.1 628.3,405.2Z"/>
<path d="M612.4,411 612.3,411.3 612,411.4 611.7,411.3 611.6,411 611.7,410.7 612,410.6 612.3,410.7Z"/>
<path d="M616.5,409.5 616.4,409.9 616,410 615.6,409.9 615.5,409.5 615.6,409.1 616,409 616.4,409.1Z"/>
<path d="M588.9,431.5 588.8,431.8 588.5,431.9 588.2,431.8 588.1,431.5 588.2,431.2 588.5,431.1 588.8,431.2Z"/>
<path d="M589.5,439 589.4,439.4 589,439.5 588.6,439.4 588.5,439 588.6,438.6 589,438.5 589.4,438.6Z"/>
<path d="M470,452.2 472.1,451.7 473.4,449.8 475.4,449.8 475.9,447.8 478.2,447.9 479.9,446.3 481.8,446.5 483.1,444.8 485.1,445.2 486.4,443.7 488.5,444.4 489.9,443.3 491.8,443.4 493.1,441.6 495.1,442.2 497.1,441.8 499,442.8 499.8,440.3 502.2,439.7 503.3,438.3 505.1,438.6 506.4,437.6 508.1,437.7 509.6,438.4 512.1,437.1 513.1,435.1 515.1,434.1 516,432 518.1,431.1 519.8,429.6 522,430.2 523.9,429 526,429.7 528,428.7 530,429.7 531.8,428.2 534.1,428.3 535.6,426.3 538.1,426.8 538.3,424.5 540.1,423.6 541.2,421.8 543.1,421.1 544.2,419.4 546.2,418.7 547.1,416.8 549.2,416.2 549.5,414 551.8,413.2 551.8,410.9 553.8,409.8 554.9,407.9 556,407.9"/>
<path d="M470,444 470.5,445.8 472.2,446.9 473.1,448.9 475.1,449.9 475.2,452.1 476.1,454 473.9,455.9 475.6,457.1 475.8,459.1 477.2,460.9"/>
<path d="M512,434.5 514.5,433.5 517,434.5 516.5,437.5 514.5,439.5 512.5,440 510.5,438.5Z"/>
</g>
<g class="rv">
<path d="M351.6,316 353,318 356,324 358.6,332 359.4,340 359.6,350 361,358 364,366 367,374 369.4,379 372,374 372.6,369 374,376 374,384 377,387.6 383,385.6 386.6,384 389,390 393,388 397,386.7"/>
<path d="M277.4,299 277.4,292 279,289 285,288.4 289,290 295,291.6 301,290 305,289 309,285.6 314,283.6 319,286 324,290 329,294 335,299 340,304 344,309 349,313 351.6,316"/>
<path d="M337.4,280.4 341,281.6 345,281 347,279 350,281 353,285 356,288 359,289 361,293 365,295 369,296 372,297 375,294 379,294 383,296 387,297 390,300 393,299 394,296 390,293 385,290 381,288 376,285 373,282 371.4,278 372,273 375,269 379,267 385,266.4 390,267 394,269 397,270.8"/>
<path d="M438.1,225 438.6,219 442,213 446,210 451,208.6 457,210 463,212.4 471,213 479,214 484,216 486,220 485,225 483,228.2"/>
<path d="M483,283.7 487,281.6 493,280 499,281.6 506,281.6 513,281.4 520,281 525,276 531,270 537,264 540,261"/>
<path d="M453.4,335 456,331 463,330 471,328.6 477,329 483,332 487,336 493,338 496,342 500,344 503,348 507,344 512,339 515,335 519,334 524,338 528,342 533,344 538,342 541.1,337"/>
<path d="M551,102 555,99 560,96 565,95 565.6,91 569,85 573,78 577,75 581,72 580,66 575,64.4 574,62 578,59 583,56.4 590,55.6 598,54 606,53 611,53 616,55 622,57.6 628,58 633,61.6 637,66 639,72 642,78 645,84 648,88 649.6,93 650,98 654,101 660,102 667,103 672,105 676,108.2"/>
<path d="M551,102 555,104.4 560,105.6 566,106 574,106.4 580,105 586.4,102.6"/>
<path d="M676,108.2 677,109 681,111 682.4,116 684,121 686,125 693,125.6 700,124 704,121.6 710,119.6 716,117 720,115.6 726,115.6"/>
<path d="M540,261 543,258.5 546,255.5 549,253.5 552.5,252 556,250 559,248 561.5,246.5 564.5,246.2"/>
<path d="M541.1,337 543,335 546,333 549.5,330.5 552.5,328 555,325.5 557,323 558,320 557.8,317 559.5,315 562,314.2 566,314 570,314 572.5,315 574.5,317 577,316.5 580,316.5 582,318 584.5,319.5 586.5,320"/>
<path d="M397,270.8 399,270.5 401,269.5 402,267.5 404.5,266.5 407,266.8 409.5,266 412,264 415,262 417,259.5 416.5,257 414.5,255.5 414,253.5 416.5,251.5 420,250.5 424,249.5 428,248 431,245.5 434,241.5 436.5,237.5 438.5,234 439.8,231 439,228 438.1,225"/>
<path d="M483,228.2 481.5,232 479.5,236 477,240 476,242.5 478,246 479.5,249 478,252 476.5,255 476,259 477,263 477.5,267 477,271 476,275 475,279 474.5,282 476,285 480,285 483,283.7"/>
<path d="M397,386.7 399.5,386 401,384 400.5,381 399.5,378 399,375 400.5,372 402.5,369 404,366 406,363.5 408,360 409.5,358.8 413,358.5 417,357 421,356.5 425,355.5 429,354 432,351.5 435,349 438,346.5 441,344.5 444,344 448,342 450.5,339 453,336 453.4,335"/>
</g>
<g class="top">
<path d="M552.4,101 556,98 560,95.6 562,96"/>
<path d="M591.6,56 598,55.2 605,54.6"/>
<path d="M630.4,57.6 634,60 637,63"/>
<path d="M641.6,79.6 643.2,83 645.6,86.4"/>
<path d="M668.4,102.4 672.4,104 676,107.6"/>
<path d="M692.4,125.6 698,125.6 703,124.6"/>
<path d="M715.6,115.2 721,115 726.4,115.6"/>
</g>
</g>
<rect x="63" y="419.4" width="83.4" height="105.9" fill="#fff"/>
<clipPath id="ins"><rect x="63" y="419.4" width="83.4" height="105.9"/></clipPath>
<g clip-path="url(#ins)" fill="none" stroke="#000" stroke-linejoin="round" stroke-linecap="round">
<polyline stroke-width="1.1" points="69.0,419.6 71.0,422.4 73.0,424.4 77.0,425.6 80.0,425.2 83.0,426.0 85.6,427.2 88.0,426.4 91.0,425.6 94.0,424.8 98.0,424.0 101.6,423.6 103.6,422.4 105.6,421.6 109.0,420.4 112.4,419.8 116.0,419.0"/>
<polyline stroke-width="1.1" points="85.6,427.2 85.2,429.6 86.4,431.6 87.6,430.8 86.8,428.4"/>
<polygon stroke-width="1.1" points="80.0,435.6 81.6,433.6 84.4,432.4 88.0,432.4 90.4,433.6 90.4,436.0 88.4,439.0 85.6,440.8 82.4,441.2 80.0,439.6 79.4,437.6"/>
<polyline stroke-width=".5" points="80.0,425.2 82.0,428.0 83.6,430.0 85.6,432.0"/>
<polyline stroke-width=".5" points="85.6,427.2 88.0,424.0 91.0,421.0 93.0,419.4"/>
<polyline stroke-width=".5" points="101.6,423.6 103.0,421.0 105.0,419.4"/>
<polyline stroke-width="1.0" points="133.6,419.4 135.0,422.4 137.6,423.6 139.6,423.2 138.4,421.0 137.0,419.4"/>
<polyline stroke-width="1.0" points="138.4,424.4 140.0,425.6 139.2,427.6"/>
<polyline stroke-width="1.3" stroke-linecap="butt" points="83.2,451.0 84.8,454.4"/>
<polyline stroke-width="1.3" stroke-linecap="butt" points="86.4,469.4 87.6,473.0"/>
<polyline stroke-width="1.3" stroke-linecap="butt" points="77.8,493.2 78.4,497.2"/>
<polyline stroke-width="1.3" stroke-linecap="butt" points="95.6,508.8 99.0,507.8"/>
<polyline stroke-width="1.3" stroke-linecap="butt" points="112.4,491.2 114.4,488.4"/>
<polyline stroke-width="1.3" stroke-linecap="butt" points="126.0,474.0 127.6,470.4"/>
<polyline stroke-width="1.3" stroke-linecap="butt" points="127.8,451.6 128.2,455.6"/>
<polyline stroke-width="1.3" stroke-linecap="butt" points="130.2,441.4 132.0,438.0"/>
<polyline stroke-width="1.3" stroke-linecap="butt" points="114.0,428.8 114.6,429.4"/>
<polyline stroke-width="1.3" stroke-linecap="butt" points="117.2,429.8 118.0,430.4"/>
<polygon stroke-width=".7" points="104.0,452.8 105.6,451.4 108.0,451.2 108.6,452.2 106.8,453.6 104.8,453.8"/>
<polyline stroke-width=".5" stroke="#555" points="97.4,498.0 98.2,500.0 97.6,502.4"/>
<polyline stroke-width=".5" stroke="#555" points="105.6,473.0 107.6,473.6 108.0,476.0 106.4,479.0 105.2,477.0"/>
</g>
<g clip-path="url(#ins)" fill="#333">
<circle cx="95.5" cy="450.1" r="0.34" opacity="0.75"/>
<circle cx="95.5" cy="448.6" r="0.34" opacity="0.75"/>
<circle cx="94.1" cy="448.8" r="0.34" opacity="0.75"/>
<circle cx="98.2" cy="450.0" r="0.34" opacity="0.75"/>
<circle cx="98.1" cy="449.6" r="0.34" opacity="0.75"/>
<circle cx="96.8" cy="449.5" r="0.34" opacity="0.75"/>
<circle cx="92.7" cy="450.7" r="0.34" opacity="0.75"/>
<circle cx="97.0" cy="450.1" r="0.34" opacity="0.75"/>
<circle cx="92.6" cy="446.1" r="0.34" opacity="0.75"/>
<circle cx="94.2" cy="448.4" r="0.34" opacity="0.75"/>
<circle cx="96.6" cy="449.1" r="0.34" opacity="0.75"/>
<circle cx="97.0" cy="448.0" r="0.34" opacity="0.75"/>
<circle cx="96.6" cy="449.9" r="0.34" opacity="0.75"/>
<circle cx="94.7" cy="452.3" r="0.34" opacity="0.75"/>
<circle cx="97.1" cy="451.4" r="0.34" opacity="0.75"/>
<circle cx="94.8" cy="447.9" r="0.34" opacity="0.75"/>
<circle cx="95.3" cy="449.0" r="0.34" opacity="0.75"/>
<circle cx="97.3" cy="449.6" r="0.34" opacity="0.75"/>
<circle cx="95.1" cy="447.5" r="0.34" opacity="0.75"/>
<circle cx="95.0" cy="451.4" r="0.34" opacity="0.75"/>
<circle cx="94.4" cy="449.6" r="0.34" opacity="0.75"/>
<circle cx="96.9" cy="446.5" r="0.34" opacity="0.75"/>
<circle cx="96.1" cy="451.6" r="0.34" opacity="0.75"/>
<circle cx="92.0" cy="448.6" r="0.34" opacity="0.75"/>
<circle cx="95.8" cy="447.7" r="0.34" opacity="0.75"/>
<circle cx="97.0" cy="449.1" r="0.34" opacity="0.75"/>
<circle cx="100.0" cy="479.9" r="0.34" opacity="0.8"/>
<circle cx="107.2" cy="482.8" r="0.34" opacity="0.8"/>
<circle cx="107.2" cy="472.3" r="0.34" opacity="0.8"/>
<circle cx="94.5" cy="478.8" r="0.34" opacity="0.8"/>
<circle cx="100.1" cy="481.9" r="0.34" opacity="0.8"/>
<circle cx="115.2" cy="474.0" r="0.34" opacity="0.8"/>
<circle cx="84.9" cy="482.8" r="0.34" opacity="0.8"/>
<circle cx="122.9" cy="468.9" r="0.34" opacity="0.8"/>
<circle cx="98.3" cy="482.2" r="0.34" opacity="0.8"/>
<circle cx="102.3" cy="483.6" r="0.34" opacity="0.8"/>
<circle cx="86.4" cy="486.6" r="0.34" opacity="0.8"/>
<circle cx="88.4" cy="491.2" r="0.34" opacity="0.8"/>
<circle cx="83.2" cy="490.3" r="0.34" opacity="0.8"/>
<circle cx="120.3" cy="466.1" r="0.34" opacity="0.8"/>
<circle cx="92.0" cy="487.1" r="0.34" opacity="0.8"/>
<circle cx="119.4" cy="473.4" r="0.34" opacity="0.8"/>
<circle cx="91.0" cy="490.0" r="0.34" opacity="0.8"/>
<circle cx="100.3" cy="479.4" r="0.34" opacity="0.8"/>
<circle cx="81.5" cy="492.0" r="0.34" opacity="0.8"/>
<circle cx="110.2" cy="477.8" r="0.34" opacity="0.8"/>
<circle cx="100.0" cy="476.3" r="0.34" opacity="0.8"/>
<circle cx="90.5" cy="484.5" r="0.34" opacity="0.8"/>
<circle cx="118.2" cy="470.1" r="0.34" opacity="0.8"/>
<circle cx="102.8" cy="486.6" r="0.34" opacity="0.8"/>
<circle cx="88.4" cy="490.1" r="0.34" opacity="0.8"/>
<circle cx="89.6" cy="488.3" r="0.34" opacity="0.8"/>
<circle cx="84.9" cy="491.7" r="0.34" opacity="0.8"/>
<circle cx="104.3" cy="484.9" r="0.34" opacity="0.8"/>
<circle cx="108.8" cy="481.6" r="0.34" opacity="0.8"/>
<circle cx="96.1" cy="485.4" r="0.34" opacity="0.8"/>
<circle cx="119.8" cy="474.5" r="0.34" opacity="0.8"/>
<circle cx="103.7" cy="482.3" r="0.34" opacity="0.8"/>
<circle cx="96.5" cy="492.1" r="0.34" opacity="0.8"/>
<circle cx="97.9" cy="488.7" r="0.34" opacity="0.8"/>
<circle cx="106.5" cy="484.9" r="0.34" opacity="0.8"/>
<circle cx="76.3" cy="487.4" r="0.34" opacity="0.8"/>
<circle cx="116.0" cy="471.2" r="0.34" opacity="0.8"/>
<circle cx="100.7" cy="490.0" r="0.34" opacity="0.8"/>
<circle cx="104.8" cy="476.5" r="0.34" opacity="0.8"/>
<circle cx="96.0" cy="474.2" r="0.34" opacity="0.8"/>
<circle cx="118.4" cy="467.0" r="0.34" opacity="0.8"/>
<circle cx="112.7" cy="481.9" r="0.34" opacity="0.8"/>
<circle cx="98.3" cy="483.8" r="0.34" opacity="0.8"/>
<circle cx="94.3" cy="491.7" r="0.34" opacity="0.8"/>
<circle cx="113.2" cy="476.2" r="0.34" opacity="0.8"/>
<circle cx="124.5" cy="471.0" r="0.34" opacity="0.8"/>
<circle cx="92.7" cy="488.9" r="0.34" opacity="0.8"/>
<circle cx="86.9" cy="479.7" r="0.34" opacity="0.8"/>
<circle cx="111.3" cy="475.7" r="0.34" opacity="0.8"/>
<circle cx="118.4" cy="478.9" r="0.34" opacity="0.8"/>
<circle cx="119.6" cy="466.4" r="0.34" opacity="0.8"/>
<circle cx="104.6" cy="488.4" r="0.34" opacity="0.8"/>
<circle cx="99.3" cy="472.9" r="0.34" opacity="0.8"/>
<circle cx="92.7" cy="489.1" r="0.34" opacity="0.8"/>
<circle cx="112.3" cy="479.0" r="0.34" opacity="0.8"/>
<circle cx="94.5" cy="482.8" r="0.34" opacity="0.8"/>
<circle cx="93.7" cy="476.4" r="0.34" opacity="0.8"/>
<circle cx="106.6" cy="482.7" r="0.34" opacity="0.8"/>
<circle cx="97.5" cy="488.7" r="0.34" opacity="0.8"/>
<circle cx="101.3" cy="476.6" r="0.34" opacity="0.8"/>
<circle cx="104.6" cy="476.3" r="0.34" opacity="0.8"/>
<circle cx="92.0" cy="489.9" r="0.34" opacity="0.8"/>
<circle cx="91.0" cy="483.9" r="0.34" opacity="0.8"/>
<circle cx="104.7" cy="489.5" r="0.34" opacity="0.8"/>
<circle cx="93.4" cy="485.1" r="0.34" opacity="0.8"/>
<circle cx="112.1" cy="478.4" r="0.34" opacity="0.8"/>
<circle cx="99.2" cy="479.9" r="0.34" opacity="0.8"/>
<circle cx="82.8" cy="490.7" r="0.34" opacity="0.8"/>
<circle cx="84.7" cy="487.4" r="0.34" opacity="0.8"/>
<circle cx="101.4" cy="475.9" r="0.34" opacity="0.8"/>
<circle cx="92.3" cy="483.5" r="0.34" opacity="0.8"/>
<circle cx="117.0" cy="479.4" r="0.34" opacity="0.8"/>
<circle cx="92.5" cy="493.0" r="0.34" opacity="0.8"/>
<circle cx="98.3" cy="478.0" r="0.34" opacity="0.8"/>
<circle cx="114.5" cy="475.7" r="0.34" opacity="0.8"/>
<circle cx="98.3" cy="480.4" r="0.34" opacity="0.8"/>
<circle cx="97.6" cy="480.8" r="0.34" opacity="0.8"/>
<circle cx="117.7" cy="464.5" r="0.34" opacity="0.8"/>
<circle cx="119.6" cy="478.7" r="0.34" opacity="0.8"/>
<circle cx="120.8" cy="471.0" r="0.34" opacity="0.8"/>
<circle cx="87.5" cy="488.4" r="0.34" opacity="0.8"/>
<circle cx="97.4" cy="488.6" r="0.34" opacity="0.8"/>
<circle cx="115.3" cy="474.4" r="0.34" opacity="0.8"/>
<circle cx="110.3" cy="475.0" r="0.34" opacity="0.8"/>
<circle cx="119.8" cy="473.5" r="0.34" opacity="0.8"/>
<circle cx="117.2" cy="475.9" r="0.34" opacity="0.8"/>
<circle cx="122.6" cy="469.9" r="0.34" opacity="0.8"/>
<circle cx="97.5" cy="481.8" r="0.34" opacity="0.8"/>
<circle cx="89.3" cy="492.9" r="0.34" opacity="0.8"/>
<circle cx="81.5" cy="488.1" r="0.34" opacity="0.8"/>
<circle cx="82.5" cy="495.0" r="0.34" opacity="0.8"/>
<circle cx="112.0" cy="485.8" r="0.34" opacity="0.8"/>
<circle cx="115.4" cy="475.4" r="0.34" opacity="0.8"/>
<circle cx="99.5" cy="487.1" r="0.34" opacity="0.8"/>
<circle cx="96.6" cy="488.5" r="0.34" opacity="0.8"/>
<circle cx="119.7" cy="470.5" r="0.34" opacity="0.8"/>
<circle cx="93.3" cy="484.5" r="0.34" opacity="0.8"/>
<circle cx="111.5" cy="478.2" r="0.34" opacity="0.8"/>
<circle cx="109.0" cy="478.4" r="0.34" opacity="0.8"/>
<circle cx="115.8" cy="467.2" r="0.34" opacity="0.8"/>
<circle cx="87.9" cy="487.2" r="0.34" opacity="0.8"/>
<circle cx="114.0" cy="475.6" r="0.34" opacity="0.8"/>
<circle cx="107.3" cy="478.5" r="0.34" opacity="0.8"/>
<circle cx="86.6" cy="487.1" r="0.34" opacity="0.8"/>
<circle cx="88.7" cy="489.2" r="0.34" opacity="0.8"/>
<circle cx="90.6" cy="489.8" r="0.34" opacity="0.8"/>
<circle cx="111.9" cy="481.3" r="0.34" opacity="0.8"/>
<circle cx="90.4" cy="487.5" r="0.34" opacity="0.8"/>
<circle cx="98.7" cy="486.2" r="0.34" opacity="0.8"/>
<circle cx="106.3" cy="484.7" r="0.34" opacity="0.8"/>
<circle cx="124.2" cy="478.2" r="0.34" opacity="0.8"/>
<circle cx="94.4" cy="482.5" r="0.34" opacity="0.8"/>
<circle cx="94.1" cy="482.6" r="0.34" opacity="0.8"/>
<circle cx="118.0" cy="479.3" r="0.34" opacity="0.8"/>
<circle cx="108.7" cy="473.9" r="0.34" opacity="0.8"/>
<circle cx="98.8" cy="484.5" r="0.34" opacity="0.8"/>
<circle cx="86.5" cy="485.4" r="0.34" opacity="0.8"/>
<circle cx="95.5" cy="491.3" r="0.34" opacity="0.8"/>
<circle cx="115.8" cy="471.2" r="0.34" opacity="0.8"/>
<circle cx="92.3" cy="490.3" r="0.34" opacity="0.8"/>
<circle cx="108.4" cy="481.5" r="0.38" opacity="0.9"/>
<circle cx="106.5" cy="486.1" r="0.38" opacity="0.9"/>
<circle cx="110.0" cy="478.4" r="0.38" opacity="0.9"/>
<circle cx="107.2" cy="486.3" r="0.38" opacity="0.9"/>
<circle cx="106.2" cy="481.4" r="0.38" opacity="0.9"/>
<circle cx="109.4" cy="479.0" r="0.38" opacity="0.9"/>
<circle cx="104.2" cy="479.5" r="0.38" opacity="0.9"/>
<circle cx="107.9" cy="482.2" r="0.38" opacity="0.9"/>
<circle cx="108.9" cy="479.1" r="0.38" opacity="0.9"/>
<circle cx="109.0" cy="480.5" r="0.38" opacity="0.9"/>
<circle cx="107.5" cy="479.2" r="0.38" opacity="0.9"/>
<circle cx="106.4" cy="480.9" r="0.38" opacity="0.9"/>
<circle cx="104.5" cy="477.2" r="0.38" opacity="0.9"/>
<circle cx="107.0" cy="474.9" r="0.38" opacity="0.9"/>
<circle cx="106.0" cy="473.4" r="0.38" opacity="0.9"/>
<circle cx="105.4" cy="480.6" r="0.38" opacity="0.9"/>
<circle cx="108.4" cy="478.8" r="0.38" opacity="0.9"/>
<circle cx="106.4" cy="475.0" r="0.38" opacity="0.9"/>
<circle cx="111.4" cy="480.4" r="0.38" opacity="0.9"/>
<circle cx="109.6" cy="476.5" r="0.38" opacity="0.9"/>
<circle cx="106.6" cy="473.9" r="0.38" opacity="0.9"/>
<circle cx="108.9" cy="481.6" r="0.38" opacity="0.9"/>
<circle cx="102.4" cy="478.9" r="0.38" opacity="0.9"/>
<circle cx="108.5" cy="474.1" r="0.38" opacity="0.9"/>
<circle cx="102.6" cy="476.0" r="0.38" opacity="0.9"/>
<circle cx="105.5" cy="475.1" r="0.38" opacity="0.9"/>
<circle cx="107.1" cy="479.7" r="0.38" opacity="0.9"/>
<circle cx="108.5" cy="481.0" r="0.38" opacity="0.9"/>
<circle cx="110.6" cy="482.3" r="0.38" opacity="0.9"/>
<circle cx="103.9" cy="477.6" r="0.38" opacity="0.9"/>
<circle cx="122.0" cy="455.0" r="0.3" opacity="0.5"/>
<circle cx="117.0" cy="449.6" r="0.3" opacity="0.5"/>
<circle cx="111.0" cy="460.4" r="0.3" opacity="0.5"/>
<circle cx="100.0" cy="436.0" r="0.3" opacity="0.5"/>
</g>
<rect x="63" y="419.4" width="83.4" height="105.9" fill="none" stroke="#000" stroke-width="1.1"/>
<rect class="sp" x="63.0" y="35.5" width="714.5" height="490.0"/>
<g class="sp">
<line x1="63.00" y1="525.5" x2="63.00" y2="533.5"/>
<line x1="165.07" y1="525.5" x2="165.07" y2="533.5"/>
<line x1="267.14" y1="525.5" x2="267.14" y2="533.5"/>
<line x1="369.21" y1="525.5" x2="369.21" y2="533.5"/>
<line x1="471.29" y1="525.5" x2="471.29" y2="533.5"/>
<line x1="573.36" y1="525.5" x2="573.36" y2="533.5"/>
<line x1="675.43" y1="525.5" x2="675.43" y2="533.5"/>
<line x1="777.50" y1="525.5" x2="777.50" y2="533.5"/>
<line x1="63.0" y1="525.50" x2="55.0" y2="525.50"/>
<line x1="63.0" y1="464.25" x2="55.0" y2="464.25"/>
<line x1="63.0" y1="403.00" x2="55.0" y2="403.00"/>
<line x1="63.0" y1="341.75" x2="55.0" y2="341.75"/>
<line x1="63.0" y1="280.50" x2="55.0" y2="280.50"/>
<line x1="63.0" y1="219.25" x2="55.0" y2="219.25"/>
<line x1="63.0" y1="158.00" x2="55.0" y2="158.00"/>
<line x1="63.0" y1="96.75" x2="55.0" y2="96.75"/>
<line x1="63.0" y1="35.50" x2="55.0" y2="35.50"/>
</g>
<g class="tk">
<text x="63.00" y="549.0" text-anchor="middle">70°E</text>
<text x="165.07" y="549.0" text-anchor="middle">80°E</text>
<text x="267.14" y="549.0" text-anchor="middle">90°E</text>
<text x="369.21" y="549.0" text-anchor="middle">100°E</text>
<text x="471.29" y="549.0" text-anchor="middle">110°E</text>
<text x="573.36" y="549.0" text-anchor="middle">120°E</text>
<text x="675.43" y="549.0" text-anchor="middle">130°E</text>
<text x="777.50" y="549.0" text-anchor="middle">140°E</text>
<text x="51.6" y="531.40" text-anchor="end">15°N</text>
<text x="51.6" y="470.15" text-anchor="end">20°N</text>
<text x="51.6" y="408.90" text-anchor="end">25°N</text>
<text x="51.6" y="347.65" text-anchor="end">30°N</text>
<text x="51.6" y="286.40" text-anchor="end">35°N</text>
<text x="51.6" y="225.15" text-anchor="end">40°N</text>
<text x="51.6" y="163.90" text-anchor="end">45°N</text>
<text x="51.6" y="102.65" text-anchor="end">50°N</text>
<text x="51.6" y="41.40" text-anchor="end">55°N</text>
</g>
<g>
<rect x="795.3" y="496.68" width="19.30" height="29.12" fill="#ffffff"/>
<rect x="795.3" y="467.85" width="19.30" height="29.12" fill="#e1f9ff"/>
<rect x="795.3" y="439.03" width="19.30" height="29.12" fill="#bef0ff"/>
<rect x="795.3" y="410.21" width="19.30" height="29.12" fill="#96e6ff"/>
<rect x="795.3" y="381.38" width="19.30" height="29.12" fill="#6edcff"/>
<rect x="795.3" y="352.56" width="19.30" height="29.12" fill="#4bd2ff"/>
<rect x="795.3" y="323.74" width="19.30" height="29.12" fill="#2dcdff"/>
<rect x="795.3" y="294.91" width="19.30" height="29.12" fill="#00c8ff"/>
<rect x="795.3" y="266.09" width="19.30" height="29.12" fill="#2dd2c8"/>
<rect x="795.3" y="237.26" width="19.30" height="29.12" fill="#5fdc96"/>
<rect x="795.3" y="208.44" width="19.30" height="29.12" fill="#a0e650"/>
<rect x="795.3" y="179.62" width="19.30" height="29.12" fill="#d2f02d"/>
<rect x="795.3" y="150.79" width="19.30" height="29.12" fill="#ffff00"/>
<rect x="795.3" y="121.97" width="19.30" height="29.12" fill="#ffd700"/>
<rect x="795.3" y="93.15" width="19.30" height="29.12" fill="#ffb400"/>
<rect x="795.3" y="64.32" width="19.30" height="29.12" fill="#ff9b00"/>
<rect x="795.3" y="35.50" width="19.30" height="29.12" fill="#ff8000"/>
</g>
<g fill="none" stroke="#222" stroke-width=".9">
<line x1="795.3" y1="496.68" x2="814.6" y2="496.68"/>
<line x1="795.3" y1="467.85" x2="814.6" y2="467.85"/>
<line x1="795.3" y1="439.03" x2="814.6" y2="439.03"/>
<line x1="795.3" y1="410.21" x2="814.6" y2="410.21"/>
<line x1="795.3" y1="381.38" x2="814.6" y2="381.38"/>
<line x1="795.3" y1="352.56" x2="814.6" y2="352.56"/>
<line x1="795.3" y1="323.74" x2="814.6" y2="323.74"/>
<line x1="795.3" y1="294.91" x2="814.6" y2="294.91"/>
<line x1="795.3" y1="266.09" x2="814.6" y2="266.09"/>
<line x1="795.3" y1="237.26" x2="814.6" y2="237.26"/>
<line x1="795.3" y1="208.44" x2="814.6" y2="208.44"/>
<line x1="795.3" y1="179.62" x2="814.6" y2="179.62"/>
<line x1="795.3" y1="150.79" x2="814.6" y2="150.79"/>
<line x1="795.3" y1="121.97" x2="814.6" y2="121.97"/>
<line x1="795.3" y1="93.15" x2="814.6" y2="93.15"/>
<line x1="795.3" y1="64.32" x2="814.6" y2="64.32"/>
<rect x="795.3" y="35.5" width="19.30" height="490.00"/>
</g>
<g class="tk">
<text x="838.3" y="502.88" text-anchor="middle">5</text>
<text x="838.3" y="474.05" text-anchor="middle">10</text>
<text x="838.3" y="445.23" text-anchor="middle">15</text>
<text x="838.3" y="416.41" text-anchor="middle">20</text>
<text x="838.3" y="387.58" text-anchor="middle">25</text>
<text x="838.3" y="358.76" text-anchor="middle">30</text>
<text x="838.3" y="329.94" text-anchor="middle">35</text>
<text x="838.3" y="301.11" text-anchor="middle">40</text>
<text x="838.3" y="272.29" text-anchor="middle">45</text>
<text x="838.3" y="243.46" text-anchor="middle">50</text>
<text x="838.3" y="214.64" text-anchor="middle">55</text>
<text x="838.3" y="185.82" text-anchor="middle">60</text>
<text x="838.3" y="156.99" text-anchor="middle">70</text>
<text x="838.3" y="128.17" text-anchor="middle">80</text>
<text x="838.3" y="99.35" text-anchor="middle">90</text>
<text x="838.3" y="70.52" text-anchor="middle">95</text>
</g>
<text class="ti" x="63.0" y="26.1">Rain24.PROB &gt;= 100mm (shaded)</text>
<text class="ti" x="777.5" y="26.1" text-anchor="end">CMA-GEPS</text>
<text class="bt" x="63.0" y="573.1">2026031900 + 120h</text>
<text class="bt" x="63.0" y="594.8">2026031908 + 120h</text>
<text class="bt" x="777.5" y="573.1" text-anchor="end">2026032400 (UTC)</text>
<text class="bt" x="777.5" y="594.8" text-anchor="end">2026032408 (CST)</text>
</svg>
</body>
</html>
